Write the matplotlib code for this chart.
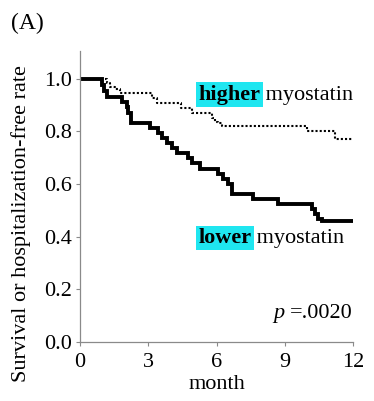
import matplotlib
matplotlib.use("Agg")
import matplotlib.pyplot as plt

plt.rcParams['font.family'] = ['Liberation Serif', 'DejaVu Serif']

# Kaplan-Meier style step data (month, rate)
lower_t = [0, 0.95, 1.06, 1.17, 1.83, 2.05, 2.12, 2.23, 3.08, 3.44, 3.59, 3.81, 4.03, 4.25,
           4.76, 4.91, 5.27, 6.05, 6.30, 6.52, 6.67, 7.62, 8.72, 10.19, 10.33, 10.48, 10.62, 12.0]
lower_s = [1.0, 0.975, 0.955, 0.93, 0.912, 0.893, 0.868, 0.832, 0.812, 0.792, 0.773, 0.754, 0.735, 0.716,
           0.697, 0.678, 0.658, 0.639, 0.62, 0.60, 0.562, 0.543, 0.523, 0.505, 0.486, 0.467, 0.46, 0.46]

higher_t = [0, 1.17, 1.32, 1.54, 1.76, 3.15, 3.37, 4.45, 4.91, 5.79, 5.93, 6.08, 6.23, 9.97, 11.21, 12.0]
higher_s = [1.0, 0.985, 0.97, 0.96, 0.946, 0.927, 0.907, 0.887, 0.868, 0.849, 0.836, 0.83, 0.82, 0.80, 0.77, 0.77]

x_ticks = [0, 3, 6, 9, 12]
y_ticks = [0.0, 0.2, 0.4, 0.6, 0.8, 1.0]

FS = 16

fig = plt.figure(figsize=(3.74, 4.01), dpi=100)
ax = fig.add_axes([80/374, 1-342/401, (353-80)/374, (342-51)/401])

ax.step(lower_t, lower_s, where='post', color='black', lw=2.8, solid_joinstyle='miter')
ax.step(higher_t, higher_s, where='post', color='black', lw=1.5, linestyle=(0, (1, 1)))

ax.set_xlim(0, 12)
ax.set_ylim(0, 1.105)
ax.set_xticks(x_ticks)
ax.set_yticks(y_ticks)
ax.set_yticklabels([f"{v:.1f}" for v in y_ticks])
for s in ['top', 'right']:
    ax.spines[s].set_visible(False)
for s in ['left', 'bottom']:
    ax.spines[s].set_color('#8a8a8a')
    ax.spines[s].set_linewidth(0.9)
ax.tick_params(axis='both', colors='#8a8a8a', labelcolor='black', labelsize=FS, length=3, width=0.8)
ax.tick_params(axis='y', pad=3)
ax.tick_params(axis='x', pad=5)

ax.set_xlabel('month', fontsize=FS, labelpad=2)
fig.text(21/374, 1-224/401, 'Survival or hospitalization-free rate', rotation=90,
         ha='center', va='center', fontsize=FS)
fig.text(11/374, 1-23/401, '(A)', ha='left', va='center', fontsize=17)

cyan = '#1fe6f0'
t1 = ax.text(5.2, 0.92, 'higher', fontsize=FS, fontweight='bold', va='baseline', ha='left',
             bbox=dict(boxstyle='square,pad=0.1', fc=cyan, ec='none'))
ax.annotate(' myostatin', xy=(1, 0.92), xycoords=(t1, 'data'), fontsize=FS, va='baseline', ha='left')

t2 = ax.text(5.2, 0.375, 'lower', fontsize=FS, fontweight='bold', va='baseline', ha='left',
             bbox=dict(boxstyle='square,pad=0.1', fc=cyan, ec='none'))
ax.annotate(' myostatin', xy=(1, 0.375), xycoords=(t2, 'data'), fontsize=FS, va='baseline', ha='left')

t3 = ax.text(12, 0.09, '=.0020', fontsize=FS, va='baseline', ha='right')
ax.annotate('p', xy=(0, 0.09), xycoords=(t3, 'data'), xytext=(-4, 0), textcoords='offset points',
            fontsize=FS, style='italic', va='baseline', ha='right')

fig.savefig('out.png', dpi=100)
